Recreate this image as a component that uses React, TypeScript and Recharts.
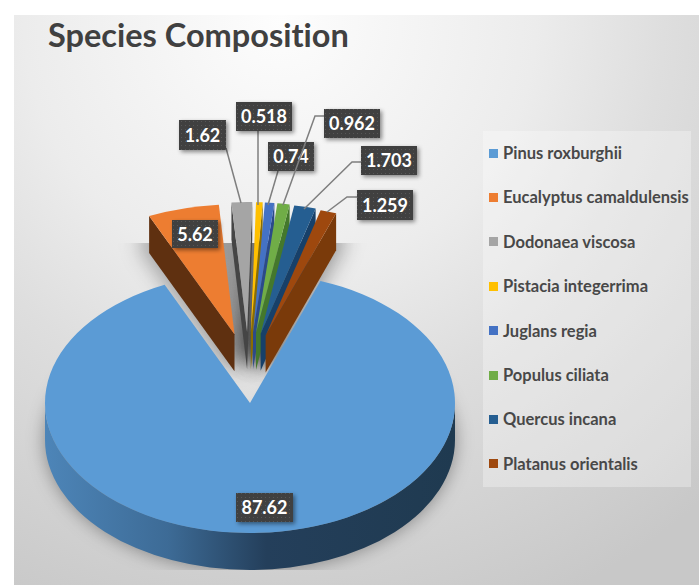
import { Legend, Pie, PieChart } from "recharts";

const species = [
  "Pinus roxburghii",
  "Eucalyptus camaldulensis",
  "Dodonaea viscosa",
  "Pistacia integerrima",
  "Juglans regia",
  "Populus ciliata",
  "Quercus incana",
  "Platanus orientalis",
];
const shares = [87.62, 5.62, 1.62, 0.518, 0.74, 0.962, 1.703, 1.259];
const topColors = ["#5b9bd5", "#ed7d31", "#a5a5a5", "#ffc000", "#4472c4", "#70ad47", "#255e91", "#9e480e"];
const wallColors = ["#223c56", "#5f3010", "#454545", "#8a6d00", "#2b4a8a", "#44782c", "#174069", "#7a3a0a"];

const data = species.map((name, i) => ({ name, value: shares[i], fill: topColors[i] }));

// value label boxes and their leader lines, in chart pixels
const labelBoxes = [
  { x: 236, y: 493, w: 57, h: 29, leader: null },
  { x: 172, y: 220, w: 46, h: 28, leader: null },
  { x: 179, y: 120, w: 47, h: 30, leader: "226,148 241,203" },
  { x: 236, y: 102, w: 56, h: 29, leader: "258,131 258,205" },
  { x: 268, y: 142, w: 46, h: 29, leader: "278,171 268,205" },
  { x: 324, y: 109, w: 56, h: 29, leader: "324,116 315,116 283,205" },
  { x: 361, y: 146, w: 56, h: 29, leader: "361,162 352,162 304,209" },
  { x: 357, y: 190, w: 56, h: 30, leader: "357,197 347,197 327,212" },
];

const FONT = "Lato, 'Open Sans', sans-serif";
const CX = 250;
const CY = 403;
const RADIUS = 205;
const TILT = 0.634; // vertical squash of the pie plane
const DEPTH = 37;
const PULL = 112; // how far the small slices are pulled out
const PULL_X = 0.5; // sideways part of the pull looks foreshortened
const PULL_SHIFT = -1.5;

const rad = (deg: number) => (deg * Math.PI) / 180;
const norm = (deg: number) => ((deg % 360) + 360) % 360;

function sliceGeometry(props: any) {
  const { startAngle, endAngle, midAngle, index } = props;
  const mid = midAngle ?? (startAngle + endAngle) / 2;
  const pulled = index !== 0;
  const tipX = pulled ? CX + PULL_SHIFT + PULL * PULL_X * Math.cos(rad(mid)) : CX;
  const tipY = pulled ? CY - PULL * TILT * Math.sin(rad(mid)) : CY;
  const point = (a: number) => [
    tipX + RADIUS * Math.cos(rad(a)),
    tipY - RADIUS * TILT * Math.sin(rad(a)),
  ];
  const [sx, sy] = point(startAngle);
  const [ex, ey] = point(endAngle);
  const large = startAngle - endAngle > 180 ? 1 : 0;
  const face = `M${tipX},${tipY} L${sx},${sy} A${RADIUS},${RADIUS * TILT} 0 ${large} 1 ${ex},${ey} Z`;
  return { tipX, tipY, sx, sy, ex, ey, face };
}

function wall(x1: number, y1: number, x2: number, y2: number) {
  return `M${x1},${y1} L${x2},${y2} L${x2},${y2 + DEPTH} L${x1},${y1 + DEPTH} Z`;
}

// soft shadow under the extruded base, cut off by the plot rectangle
function ShadowSlice(props: any) {
  const { face } = sliceGeometry(props);
  const main = props.index === 0;
  return (
    <g clipPath="url(#shadowClip)">
      <path
        d={face}
        transform={`translate(0,${main ? DEPTH : DEPTH - 12})`}
        fill="#000"
        fillOpacity={main ? 0.38 : 0.3}
        filter={main ? "url(#softShadow)" : "url(#wideShadow)"}
      />
    </g>
  );
}

function Slice3D(props: any) {
  const { index, startAngle, endAngle, fill } = props;
  const { tipX, tipY, sx, sy, ex, ey, face } = sliceGeometry(props);
  const side = wallColors[index];
  if (index === 0) {
    const ry = RADIUS * TILT;
    const rim = `M${CX + RADIUS},${CY} A${RADIUS},${ry} 0 0 1 ${CX - RADIUS},${CY} L${CX - RADIUS},${CY + DEPTH} A${RADIUS},${ry} 0 0 0 ${CX + RADIUS},${CY + DEPTH} Z`;
    return (
      <g>
        <path d={rim} fill="url(#rimGradient)" />
        <path d={face} fill={fill} />
      </g>
    );
  }
  // a cut edge shows its wall only when it faces the viewer
  const start = norm(startAngle);
  const end = norm(endAngle);
  return (
    <g>
      {start > 90 && start < 270 && <path d={wall(tipX, tipY, sx, sy)} fill={side} />}
      {end < 90 && <path d={wall(tipX, tipY, ex, ey)} fill={side} />}
      <path d={face} fill={fill} />
    </g>
  );
}

function ValueLabel(props: any) {
  const { index, value } = props;
  const box = labelBoxes[index];
  return (
    <g>
      {box.leader && <polyline points={box.leader} fill="none" stroke="#7f7f7f" strokeWidth={1.5} />}
      <rect x={box.x} y={box.y} width={box.w} height={box.h} fill="#3f3f3f" filter="url(#boxShadow)" />
      <rect x={box.x} y={box.y} width={box.w} height={box.h} fill="url(#boxDots)" />
      <text
        x={box.x + box.w / 2}
        y={box.y + box.h / 2 + 6.5}
        textAnchor="middle"
        fill="#fff"
        fontFamily={FONT}
        fontWeight={700}
        fontSize={18}
      >
        {value}
      </text>
    </g>
  );
}

function SpeciesLegend({ payload }: any) {
  // both pie layers report entries, keep one per species
  const seen = new Set<string>();
  const entries = (payload ?? []).filter((entry: any) => {
    if (seen.has(entry.value)) return false;
    seen.add(entry.value);
    return true;
  });
  return (
    <div style={{ width: 208, height: 356, background: "rgba(255,255,255,0.3)", position: "relative", fontFamily: FONT }}>
      {entries.map((entry: any, i: number) => (
        <div
          key={entry.value}
          style={{
            position: "absolute",
            left: 6,
            top: 22 + i * 44.4 - 11,
            height: 22,
            display: "flex",
            alignItems: "center",
            whiteSpace: "nowrap",
            fontSize: 16.5,
            fontWeight: 700,
            fontVariantLigatures: "none",
            color: "#484848",
          }}
        >
          <span style={{ width: 9, height: 9, background: entry.color, marginRight: 5 }} />
          {entry.value}
        </div>
      ))}
    </div>
  );
}

export default function App() {
  return (
    <div style={{ position: "absolute", left: 0, top: 0, width: 699, height: 585, background: "#fff", overflow: "hidden" }}>
      <div
        style={{
          position: "absolute",
          left: 14,
          top: 15,
          right: 0,
          bottom: 0,
          background:
            "radial-gradient(circle 640px at 266px 5px, #fdfdfd 0%, #ececec 40%, #dedede 60%, #c8c8c8 100%)",
        }}
      />
      <div
        style={{
          position: "absolute",
          left: 48,
          top: 15,
          fontFamily: FONT,
          fontWeight: 700,
          fontSize: 32.5,
          lineHeight: "40px",
          fontVariantLigatures: "none",
          color: "#404040",
        }}
      >
        Species Composition
      </div>
      <div style={{ position: "absolute", left: 0, top: 0 }}>
        <PieChart width={699} height={585} margin={{ top: 0, right: 0, bottom: 0, left: 0 }}>
          <defs>
            <clipPath id="shadowClip">
              <rect x={14} y={243} width={685} height={327} />
            </clipPath>
            <filter id="softShadow" filterUnits="userSpaceOnUse" x={0} y={100} width={699} height={485}>
              <feGaussianBlur stdDeviation={9} />
            </filter>
            <filter id="wideShadow" filterUnits="userSpaceOnUse" x={0} y={100} width={699} height={485}>
              <feMorphology operator="dilate" radius={9} />
              <feGaussianBlur stdDeviation={10} />
            </filter>
            <filter id="boxShadow" x="-20%" y="-20%" width="150%" height="160%">
              <feDropShadow dx={2} dy={2} stdDeviation={2} floodColor="#000" floodOpacity={0.45} />
            </filter>
            <pattern id="boxDots" width={4} height={4} patternUnits="userSpaceOnUse">
              <rect x={1} y={1} width={1} height={1} fill="#fff" fillOpacity={0.12} />
            </pattern>
            <linearGradient id="rimGradient" gradientUnits="userSpaceOnUse" x1={45} y1={0} x2={455} y2={0}>
              <stop offset="0%" stopColor="#4d85b8" />
              <stop offset="30%" stopColor="#3d6b96" />
              <stop offset="54%" stopColor="#243f5b" />
              <stop offset="100%" stopColor="#1f3a50" />
            </linearGradient>
          </defs>
          <Pie
            data={data}
            dataKey="value"
            nameKey="name"
            cx={CX}
            cy={CY}
            outerRadius={RADIUS}
            startAngle={69.9}
            endAngle={-290.1}
            stroke="none"
            legendType="none"
            shape={ShadowSlice}
            isAnimationActive={false}
          />
          <Pie
            data={data}
            dataKey="value"
            nameKey="name"
            cx={CX}
            cy={CY}
            outerRadius={RADIUS}
            startAngle={69.9}
            endAngle={-290.1}
            stroke="none"
            shape={Slice3D}
            label={ValueLabel}
            labelLine={false}
            isAnimationActive={false}
          />
          <Legend
            layout="vertical"
            align="right"
            verticalAlign="top"
            itemSorter={null}
            content={SpeciesLegend}
            wrapperStyle={{ position: "absolute", left: 483, top: 131, width: 208, height: 356 }}
          />
        </PieChart>
      </div>
    </div>
  );
}
